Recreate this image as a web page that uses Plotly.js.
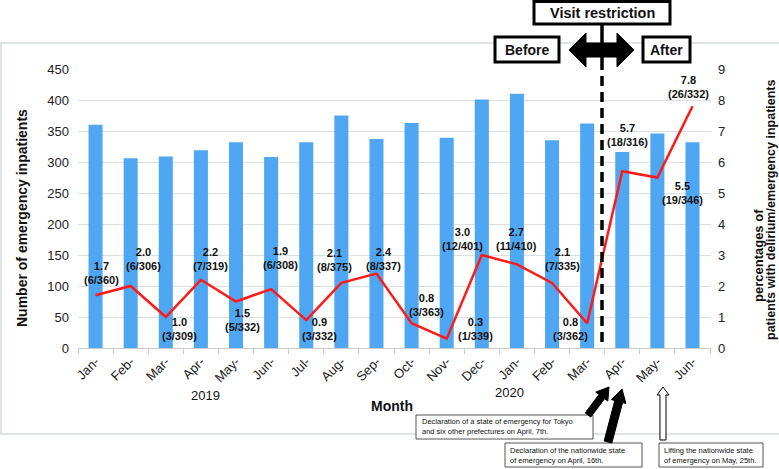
<!DOCTYPE html>
<html>
<head>
<meta charset="utf-8">
<script src="https://cdn.plot.ly/plotly-3.0.1.min.js"></script>
<style>
  body { margin: 0; background: #fff; }
  #chart { width: 779px; height: 469px; }
</style>
</head>
<body>
<div id="chart"></div>
<script>
// months Jan 2019 - Jun 2020
var months = ["Jan 2019", "Feb 2019", "Mar 2019", "Apr 2019", "May 2019", "Jun 2019",
  "Jul 2019", "Aug 2019", "Sep 2019", "Oct 2019", "Nov 2019", "Dec 2019",
  "Jan 2020", "Feb 2020", "Mar 2020", "Apr 2020", "May 2020", "Jun 2020"];
var monthLabels = ["Jan-", "Feb-", "Mar-", "Apr-", "May-", "Jun-", "Jul-", "Aug-", "Sep-",
  "Oct-", "Nov-", "Dec-", "Jan-", "Feb-", "Mar-", "Apr-", "May-", "Jun-"];

// emergency inpatients per month
var inpatients = [360, 306, 309, 319, 332, 308, 332, 375, 337, 363, 339, 401, 410, 335, 362, 316, 346, 332];
// patients with delirium
var delirium = [6, 6, 3, 7, 5, 6, 3, 8, 8, 3, 1, 12, 11, 7, 3, 18, 19, 26];
// percentage with delirium
var percents = [1.7, 2.0, 1.0, 2.2, 1.5, 1.9, 0.9, 2.1, 2.4, 0.8, 0.3, 3.0, 2.7, 2.1, 0.8, 5.7, 5.5, 7.8];

// label offsets (px) from each point, as in the original
var labelDx = [6, 13, 14, 10, 6, 9, 13, -7, 7, 15, 29, -19, 0, 10, -17, 5, 25, -4];
var labelDy = [-22, -27, 12, -21, 18, -31, 9, -23, -15, -18, -10, -16, -25, -24, 6, -36, 15, -19];

// plot area in pixels
var L = 78, R = 711, T = 69, B = 348;
function px(x) { return (x - L) / (R - L); }
function py(y) { return (B - y) / (B - T); }

function poly(pts) {
  return pts.map((p, i) => (i ? "L" : "M") + px(p[0]).toFixed(4) + "," + py(p[1]).toFixed(4)).join(" ") + " Z";
}

// block arrow from tail to tip, all in pixels
function arrow(x0, y0, x1, y1, sw, hw, hl) {
  var dx = x1 - x0, dy = y1 - y0, len = Math.sqrt(dx * dx + dy * dy);
  var ux = dx / len, uy = dy / len, nx = -uy, ny = ux;
  var bx = x1 - ux * hl, by = y1 - uy * hl;
  return poly([
    [x0 + nx * sw / 2, y0 + ny * sw / 2],
    [bx + nx * sw / 2, by + ny * sw / 2],
    [bx + nx * hw / 2, by + ny * hw / 2],
    [x1, y1],
    [bx - nx * hw / 2, by - ny * hw / 2],
    [bx - nx * sw / 2, by - ny * sw / 2],
    [x0 - nx * sw / 2, y0 - ny * sw / 2]
  ]);
}

function rect(x0, y0, x1, y1, color, width, fill) {
  return {type: "rect", xref: "paper", yref: "paper", x0: px(x0), x1: px(x1), y0: py(y1), y1: py(y0),
    line: {color: color, width: width}, fillcolor: fill || "rgba(0,0,0,0)", layer: "above"};
}

var barTrace = {
  x: months,
  y: inpatients,
  type: "bar",
  marker: {color: "#4FA7F4"},
  hoverinfo: "skip"
};
var lineTrace = {
  x: months,
  y: percents,
  yaxis: "y2",
  type: "scatter",
  mode: "lines",
  line: {color: "#FF1A1A", width: 2.5},
  hoverinfo: "skip"
};

var font = "Liberation Sans, Arial, sans-serif";
var annotations = [];

// data labels
for (var i = 0; i < months.length; i++) {
  annotations.push({
    x: months[i], y: percents[i], xref: "x", yref: "y2",
    text: "<b>" + percents[i].toFixed(1) + "<br>(" + delirium[i] + "/" + inpatients[i] + ")</b>",
    showarrow: false, xshift: labelDx[i], yshift: -labelDy[i],
    font: {family: font, size: 11, color: "#111"}
  });
}

function label(x, y, text, size, opts) {
  var a = {x: px(x), y: py(y), xref: "paper", yref: "paper", text: text, showarrow: false,
    font: {family: font, size: size, color: "#111"}, xanchor: "center", yanchor: "middle"};
  return Object.assign(a, opts || {});
}

annotations.push(label(22, 218, "<b>Number of emergency inpatients</b>", 14, {textangle: -90}));
annotations.push(label(758, 256, "<b>percentages of</b>", 13, {textangle: -90}));
annotations.push(label(771, 210, "<b>patients with delirium/emergency inpatients</b>", 12.5, {textangle: -90}));
annotations.push(label(205, 395, "2019", 13));
annotations.push(label(509, 392, "2020", 13));
annotations.push(label(392, 406, "<b>Month</b>", 14));
annotations.push(label(602, 13, "<b>Visit restriction</b>", 14.5));
annotations.push(label(527, 50, "<b>Before</b>", 14));
annotations.push(label(666.5, 50, "<b>After</b>", 14));
annotations.push(label(420, 427, "Declaration of a state of emergency for Tokyo<br>and six other prefectures on April, 7th.", 7.5,
  {xanchor: "left", align: "left"}));
annotations.push(label(508, 455.5, "Declaration of the nationwide state<br>of emergency on April, 16th.", 7.5,
  {xanchor: "left", align: "left"}));
annotations.push(label(662, 455.5, "Lifting the nationwide state<br>of emergency on May, 25th.", 7.5,
  {xanchor: "left", align: "left"}));

var shapes = [
  // chart border
  {type: "rect", xref: "paper", yref: "paper", x0: px(1), x1: px(790), y0: py(434), y1: py(43),
    line: {color: "#D5DBDB", width: 1.5}, layer: "below"},
  // visit restriction line
  {type: "line", xref: "paper", yref: "paper", x0: px(602), x1: px(602), y0: py(24), y1: py(70),
    line: {color: "#000", width: 3.5}, layer: "above"},
  {type: "line", xref: "paper", yref: "paper", x0: px(602), x1: px(602), y0: py(76), y1: py(348),
    line: {color: "#000", width: 3.5, dash: "10px,6px"}, layer: "above"},
  rect(534, 1.5, 670, 24, "#000", 3, "#fff"),
  rect(495, 37, 559, 62, "#000", 3, "#fff"),
  rect(643, 37, 690, 62, "#000", 3, "#fff"),
  // double arrow
  {type: "path", xref: "paper", yref: "paper", layer: "above",
    path: poly([[569, 50], [586, 33], [586, 43], [617, 43], [617, 33], [634, 50], [617, 67], [617, 57], [586, 57], [586, 67]]),
    fillcolor: "#000", line: {color: "#000", width: 1}},
  // event boxes
  rect(416, 415, 593, 439, "#555", 1, "#fff"),
  rect(505, 443, 642, 467, "#555", 1, "#fff"),
  rect(659, 443, 763, 467, "#555", 1, "#fff"),
  // event arrows
  {type: "path", xref: "paper", yref: "paper", layer: "above", path: arrow(588, 415, 609, 387, 7, 15, 12),
    fillcolor: "#000", line: {color: "#000", width: 1}},
  {type: "path", xref: "paper", yref: "paper", layer: "above", path: arrow(608, 442, 622, 389, 8, 15, 13),
    fillcolor: "#000", line: {color: "#000", width: 1}},
  {type: "path", xref: "paper", yref: "paper", layer: "above", path: arrow(663, 440, 663, 387, 6, 12, 8),
    fillcolor: "#fff", line: {color: "#000", width: 1}}
];

var layout = {
  width: 779,
  height: 469,
  margin: {l: L, r: 779 - R, t: T, b: 469 - B},
  paper_bgcolor: "#fff",
  plot_bgcolor: "#fff",
  showlegend: false,
  bargap: 0.6,
  font: {family: font, size: 13, color: "#222"},
  xaxis: {
    type: "category",
    tickvals: months,
    ticktext: monthLabels,
    tickangle: -45,
    tickson: "boundaries",
    ticks: "outside",
    ticklen: 5,
    tickcolor: "#C8CCCC",
    showline: true,
    linecolor: "#C8CCCC",
    showgrid: false,
    tickfont: {size: 13, color: "#222"}
  },
  yaxis: {
    range: [0, 450],
    dtick: 50,
    showgrid: true,
    gridcolor: "#DCE0E0",
    zeroline: false,
    showline: false,
    ticklabelstandoff: 8,
    tickfont: {size: 13, color: "#222"}
  },
  yaxis2: {
    range: [0, 9],
    dtick: 1,
    overlaying: "y",
    side: "right",
    showgrid: false,
    zeroline: false,
    showline: false,
    ticklabelstandoff: 6,
    tickfont: {size: 13, color: "#222"}
  },
  annotations: annotations,
  shapes: shapes
};

Plotly.newPlot("chart", [barTrace, lineTrace], layout, {displayModeBar: false, staticPlot: true});
</script>
</body>
</html>
